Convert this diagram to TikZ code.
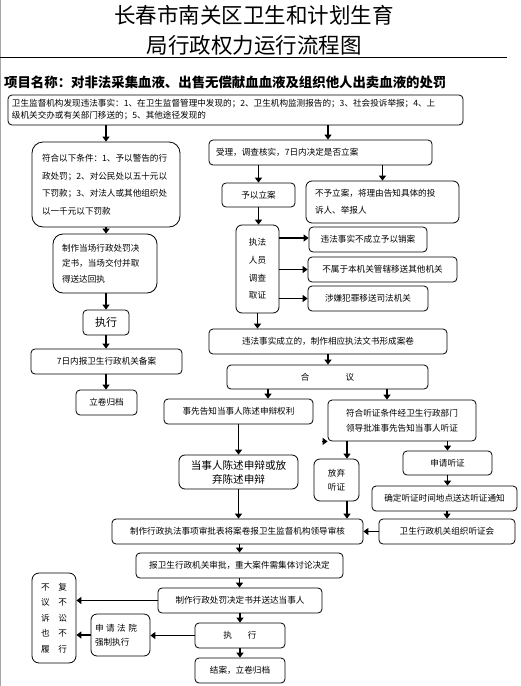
\documentclass[tikz,border=0pt]{standalone}
\usepackage{fontspec}
\setmainfont{Noto Sans CJK SC}
\usepackage{tikz}
\usetikzlibrary{
    calc,
    arrows.meta,
    positioning
}
\tikzset{
    box/.style={draw, line width=0.8pt, rounded corners=4pt, inner sep=0pt, align=center,
        font=\fontsize{8.6}{15}\selectfont},
    sz/.style 2 args={minimum width=#1pt, minimum height=#2pt},
    lbox/.style 2 args={text width=#1pt, inner xsep=#2pt, align=left},
    arr/.style={-{Triangle[length=5pt,width=7pt]}, line width=1.8pt}
}

\begin{document}
\begin{tikzpicture}[x=1pt, y=-1pt]
        \useasboundingbox (0,0) rectangle (520,686);
        \draw[black!35, line width=1.2pt] (0.6,0) -- (0.6,686);
        % title
        \draw (254,15) node(t1)[inner sep=0pt, font=\fontsize{21.5}{24}\selectfont]{长春市南关区卫生和计划生育};
        \draw (254,45) node(t2)[inner sep=0pt, font=\fontsize{21.5}{24}\selectfont]{局行政权力运行流程图};
        \draw[line width=0.9pt] (0,57) -- (507,57);
        \draw (4,82) node(proj)[anchor=west, inner sep=0pt, font=\fontsize{13.4}{16}\bfseries]{项目名称：对非法采集血液、出售无偿献血血液及组织他人出卖血液的处罚};

        % left branch
        \draw (235.5,110) node(src)[box, sz={455}{30}, lbox={447}{4}, font=\fontsize{8.6}{12}\selectfont]{卫生监督机构发现违法事实：1、在卫生监督管理中发现的；2、卫生机构监测报告的；3、社会投诉举报；4、上\\级机关交办或有关部门移送的；5、其他途径发现的};
        \draw (106,184.5) node(cond)[box, sz={148}{85}, lbox={128}{10}, rounded corners=11pt, font=\fontsize{8.6}{17.5}\selectfont]{符合以下条件：1、予以警告的行\\政处罚；2、对公民处以五十元以\\下罚款；3、对法人或其他组织处\\以一千元以下罚款};
        \draw (105,263.5) node(onsite)[box, sz={104}{59}, lbox={86}{9}, rounded corners=10pt, font=\fontsize{8.6}{15.5}\selectfont]{制作当场行政处罚决\\定书，当场交付并取\\得送达回执};
        \draw (106,322.5) node(exec1)[box, sz={46}{25}, font=\fontsize{11}{13}\selectfont]{执行};
        \draw (106.5,361.5) node(record7)[box, sz={151}{25}]{7日内报卫生行政机关备案};
        \draw (106.5,402.5) node(file1)[box, sz={61}{25}]{立卷归档};

        % investigation
        \draw (320.5,152.5) node(accept)[box, sz={223}{25}, lbox={209}{7}]{受理，调查核实，7日内决定是否立案};
        \draw (258.5,195) node(filecase)[box, sz={73}{24}]{予以立案};
        \draw (382.5,202) node(reject)[box, sz={149}{42}, rounded corners=6pt, lbox={135}{9}, font=\fontsize{8.6}{17}\selectfont]{不予立案，将理由告知具体的投\\诉人、举报人};
        \draw (257.5,269) node(invest)[box, sz={43}{88}, rounded corners=6pt, font=\fontsize{8.6}{17.7}\selectfont]{执法\\人员\\调查\\取证};
        \draw (368,239.5) node(cancel)[box, sz={118}{25}]{违法事实不成立予以销案};
        \draw (382.5,269.5) node(transfer)[box, sz={149}{25}]{不属于本机关管辖移送其他机关};
        \draw (368,298.5) node(crime)[box, sz={120}{25}]{涉嫌犯罪移送司法机关};
        \draw (328,341.5) node(docs)[box, sz={238}{25}]{违法事实成立的，制作相应执法文书形成案卷};
        \draw (327.5,377) node(council)[box, sz={201}{24}]{合\hspace{36pt}议};

        % statement / hearing
        \draw (238.5,411.5) node(inform)[box, sz={149}{25}]{事先告知当事人陈述申辩权利};
        \draw (402,420.5) node(hear)[box, sz={148}{41}, font=\fontsize{8.6}{15}\selectfont]{符合听证条件经卫生行政部门\\领导批准事先告知当事人听证};
        \draw (238.5,472) node(plead)[box, sz={119}{34}, rounded corners=6pt, font=\fontsize{10.6}{14}\selectfont]{当事人陈述申辩或放\\弃陈述申辩};
        \draw (336.5,480) node(waive)[box, sz={45}{42}, rounded corners=6pt, font=\fontsize{8.6}{14}\selectfont]{放弃\\听证};
        \draw (447.5,463) node(apply)[box, sz={89}{24}]{申请听证};
        \draw (444.5,498.5) node(notify)[box, sz={145}{25}]{确定听证时间地点送达听证通知};
        \draw (447,531.5) node(hearing)[box, sz={136}{25}]{卫生行政机关组织听证会};

        % decision
        \draw (237.5,531.5) node(review)[box, sz={251}{25}]{制作行政执法事项审批表将案卷报卫生监督机构领导审核};
        \draw (239.5,565.5) node(approve)[box, sz={207}{25}]{报卫生行政机关审批，重大案件需集体讨论决定};
        \draw (240,600.5) node(decision)[box, sz={164}{25}]{制作行政处罚决定书并送达当事人};
        \draw (54,618) node(nocomply)[box, sz={44}{90}, rounded corners=7pt, font=\fontsize{8.6}{15.5}\selectfont]{不\quad 复\\议\quad 不\\诉\quad 讼\\也\quad 不\\履\quad 行};
        \draw (240,635.5) node(exec2)[box, sz={90}{25}]{执\hspace{16pt}行};
        \draw (120.5,635) node(court)[box, sz={59}{42}, rounded corners=6pt, lbox={51}{4}, font=\fontsize{8.6}{14}\selectfont]{申\hspace{2.5pt}请\hspace{2.5pt}法\hspace{2.5pt}院\\强制执行};
        \draw (240,670.5) node(close)[box, sz={90}{25}]{结案，立卷归档};

        \draw[arr] (cond.north |- src.south) to (cond.north);
        \draw[arr] ([xshift=7.5pt]accept.north |- src.south) to ([xshift=7.5pt]accept.north);
        \draw[arr] (cond.south) to (cond.south |- onsite.north);
        \draw[arr] (exec1.north |- onsite.south) to (exec1.north);
        \draw[arr] (exec1.south) to (exec1.south |- record7.north);
        \draw[arr] (exec1.south |- record7.south) to (exec1.south |- file1.north);
        \draw[arr] (filecase.north |- accept.south) to (filecase.north);
        \draw[arr] (reject.north |- accept.south) to (reject.north);
        \draw[arr] (filecase.south) to (filecase.south |- invest.north);
        \draw[arr] ([yshift=1.5pt]cancel.west -| invest.east) to ([yshift=1.5pt]cancel.west);
        \draw[arr] (transfer.west -| invest.east) to (transfer.west);
        \draw[arr] (crime.west -| invest.east) to (crime.west);
        \draw[arr] (invest.south) to (invest.south |- docs.north);
        \draw[arr] (docs.south) to (docs.south |- council.north);
        \draw[arr] ([xshift=29.5pt]inform.north |- council.south) to ([xshift=29.5pt]inform.north);
        \draw[arr] ([xshift=-15pt]hear.north |- council.south) to ([xshift=-15pt]hear.north);
        \draw[arr] (inform.south) to (inform.south |- plead.north);
        \draw[arr] ([xshift=10.5pt]waive.north |- hear.south) to ([xshift=10.5pt]waive.north);
        \draw[arr] (apply.north |- hear.south) to (apply.north);
        \draw[arr] ([xshift=-6pt]hear.south west) to (hear.south west);
        \draw[arr] (apply.south) to (apply.south |- notify.north);
        \draw[arr] (hearing.north |- notify.south) to (hearing.north);
        \draw[arr] (hearing.west) to (hearing.west -| review.east);
        \draw[arr] (plead.south) to (plead.south |- review.north);
        \draw[arr] ([xshift=10.5pt]waive.south) to ([xshift=10.5pt]waive.south |- review.north);
        \draw[arr] (approve.north |- review.south) to (approve.north);
        \draw[arr] (approve.south) to (approve.south |- decision.north);
        \draw[arr] (decision.west) to (decision.west -| nocomply.east);
        \draw[arr] (decision.south) to (decision.south |- exec2.north);
        \draw[arr] (exec2.west) to (exec2.west -| court.east);
        \draw[arr] (court.west) to (court.west -| nocomply.east);
        \draw[arr] (exec2.south) to (exec2.south |- close.north);
    \end{tikzpicture}
\end{document}
